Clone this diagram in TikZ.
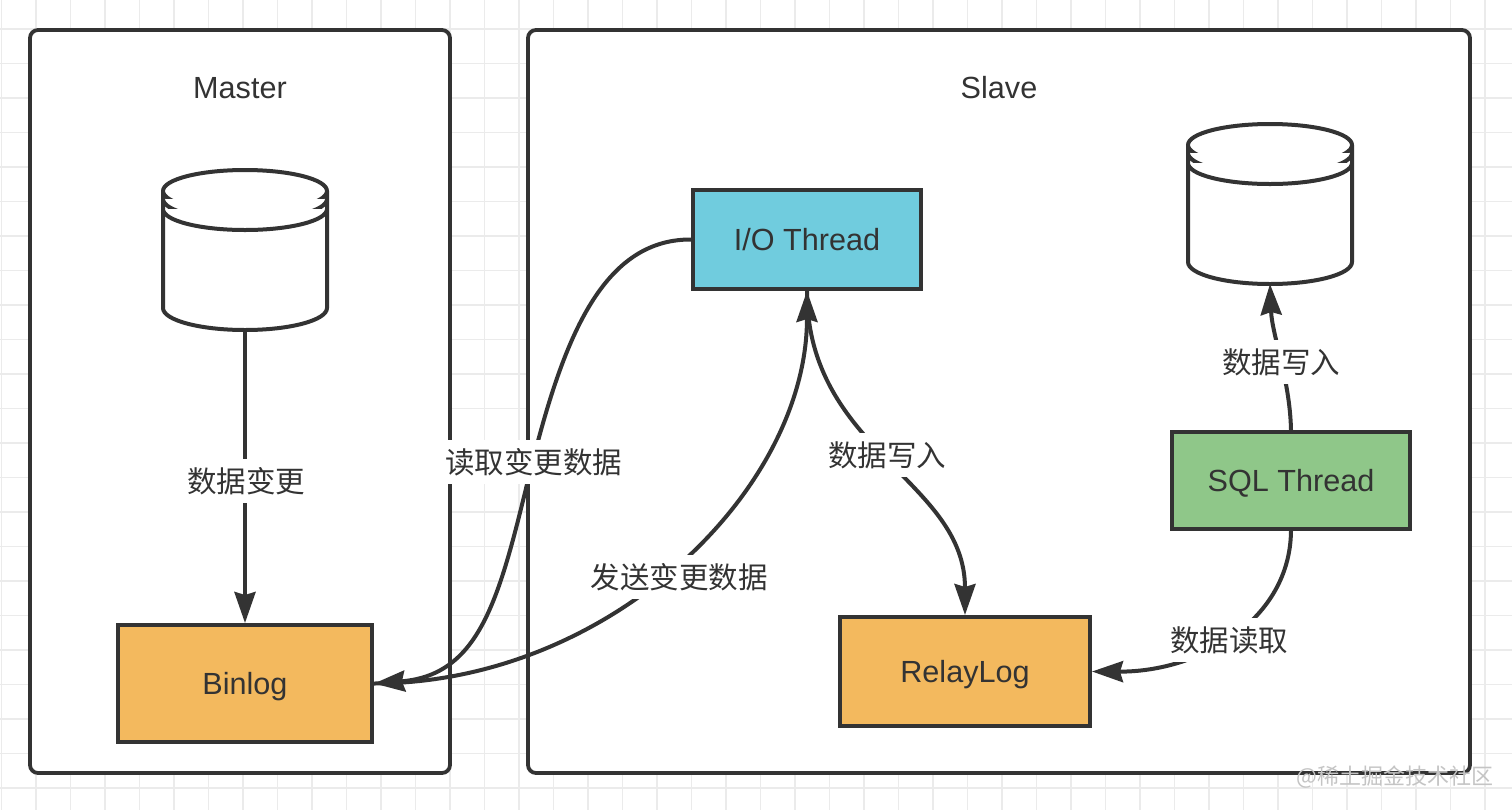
\documentclass[tikz,border=0pt]{standalone}
\usepackage{fontspec}
\setmainfont{Liberation Sans}
\newfontfamily\cjk{Noto Sans CJK SC}
\usetikzlibrary{arrows.meta}
\definecolor{ink}{HTML}{333333}
\definecolor{gridc}{HTML}{EBEBEB}
\definecolor{orangef}{HTML}{F3B95E}
\definecolor{cyanf}{HTML}{70CCDE}
\definecolor{greenf}{HTML}{8FC789}
\definecolor{wmc}{HTML}{C4C4C4}
\newcommand\mylatin{\fontsize{15.3pt}{18pt}\selectfont}
\newcommand\mycjk{\cjk\fontsize{14.75pt}{18pt}\selectfont}
\newcommand\drawdb[1]{%
  \begin{scope}[shift={(#1.center)}]
    \filldraw[dbline] (-82,-59) -- (-82,58)
      arc[start angle=180,end angle=360,x radius=41pt,y radius=11pt]
      -- (82,-59)
      arc[start angle=0,end angle=180,x radius=41pt,y radius=10.5pt] -- cycle;
    \draw[dbline] (-82,-59) arc[start angle=180,end angle=360,x radius=41pt,y radius=10.5pt];
    \draw[dbline] (-82,-51) arc[start angle=180,end angle=360,x radius=41pt,y radius=10.5pt];
    \draw[dbline] (-82,-41) arc[start angle=180,end angle=360,x radius=41pt,y radius=10.5pt];
  \end{scope}}
\begin{document}
\begin{tikzpicture}[x=0.5pt,y=-0.5pt,
  gridline/.style={draw=gridc,line width=0.6pt},
  container/.style={draw=ink,line width=1.9pt,fill=white,rounded corners=4pt,inner sep=0pt},
  procbox/.style={draw=ink,line width=2pt,inner sep=0pt,text=ink,font=\mylatin,text height=11pt,text depth=0pt},
  titletext/.style={text=ink,font=\mylatin,inner sep=0pt,text height=11pt,text depth=0pt},
  dbarea/.style={draw=none,inner sep=0pt,outer sep=0pt},
  dbline/.style={draw=ink,line width=2pt,fill=white,line join=round},
  conn/.style={draw=ink,line width=2pt,-{Stealth[length=15.5pt,width=10.5pt,inset=1.5pt]}},
  lbl/.style={fill=white,text=ink,font=\mycjk,inner xsep=1pt,inner ysep=5.5pt,text height=11.2pt,text depth=0pt},
  wmk/.style={text=wmc,font=\cjk\fontsize{11pt}{13pt}\selectfont,inner sep=0pt}
]
\useasboundingbox (0,0) rectangle (1512,810);
\fill[white] (0,0) rectangle (1512,810);
% grid
\foreach \i in {0,...,43} \draw[gridline] ({1.5+34.5*\i},0) -- ({1.5+34.5*\i},810);
\foreach \j in {1,...,23} \draw[gridline] (0,{-5.5+34.5*\j}) -- (1512,{-5.5+34.5*\j});
% containers
\node[container,minimum width=210pt,minimum height=371.5pt] (master) at (240,401.5) {};
\node[container,minimum width=471pt,minimum height=371.5pt] (slave) at (999,401.5) {};
\node[titletext] (mtitle) at (240,87) {Master};
\node[titletext] (stitle) at (999,87) {Slave};
% databases
\node[dbarea,minimum width=82pt,minimum height=80pt] (db1) at (245,250) {};
\node[dbarea,minimum width=82pt,minimum height=80pt] (db2) at (1270,204) {};
\drawdb{db1}
\drawdb{db2}
% boxes
\node[procbox,fill=orangef,minimum width=127pt,minimum height=58.5pt] (binlog) at (245,683.5) {Binlog};
\node[procbox,fill=cyanf,minimum width=114pt,minimum height=49.5pt] (io) at (807,239.5) {I/O Thread};
\node[procbox,fill=orangef,minimum width=125pt,minimum height=54.5pt] (relay) at (965,671.5) {RelayLog};
\node[procbox,fill=greenf,minimum width=119pt,minimum height=48.5pt] (sql) at (1291,480.5) {SQL Thread};
% connectors
\draw[conn] (db1.south) -- (binlog.north);
\coordinate (m1) at (531,468);
\draw[conn] (io.west) .. controls (600,239) and (562,345) .. (m1)
  .. controls (500,595) and (482,675) .. (binlog.east);
\draw[conn] (binlog.east) .. controls (610,683) and (807,490) .. (io.south);
\draw[conn] (io.south) .. controls (807,450) and (965,480) .. (relay.north);
\draw[conn] (sql.south) .. controls (1290,620) and (1200,672) .. (relay.east);
\draw[conn] (sql.north) .. controls (1290,380) and (1272,335) .. (db2.south);
% labels
\node[lbl] (l1) at (246,481) {数据变更};
\node[lbl] (l2) at (533.5,462) {读取变更数据};
\node[lbl] (l3) at (679,577) {发送变更数据};
\node[lbl] (l4) at (887,455) {数据写入};
\node[lbl] (l5) at (1281,362) {数据写入};
\node[lbl] (l6) at (1229,640) {数据读取};
\node[wmk] (wm) at (1395,777) {@稀土掘金技术社区};
\end{tikzpicture}
\end{document}
